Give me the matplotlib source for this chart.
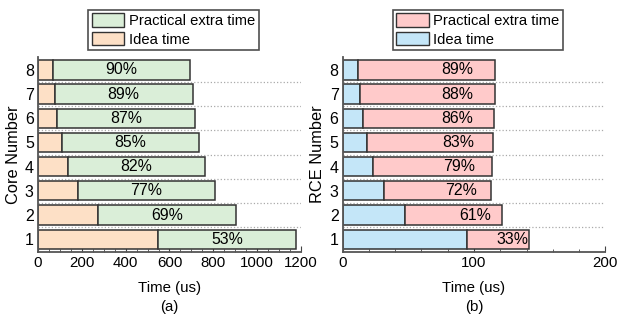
import matplotlib.pyplot as plt
from matplotlib.patches import Patch
from matplotlib.ticker import MultipleLocator, FixedLocator

plt.rcParams['font.family'] = ['Liberation Sans', 'DejaVu Sans']
plt.rcParams['font.size'] = 10.5

# bar index (core / RCE count)
counts = [1, 2, 3, 4, 5, 6, 7, 8]

# (a) multi-core, time in us
core_ideal = [549, 274, 182, 137, 108, 88, 76, 67]
core_total = [1177, 902, 809, 763, 736, 718, 706, 695]
core_pct = ["53%", "69%", "77%", "82%", "85%", "87%", "89%", "90%"]

# (b) RCE, time in us
rce_ideal = [94.9, 47.2, 31.2, 23.3, 18.5, 15.5, 13.2, 12.0]
rce_total = [142.1, 121.6, 113.2, 114.0, 114.7, 115.2, 115.8, 116.2]
rce_pct = ["33%", "61%", "72%", "79%", "83%", "86%", "88%", "89%"]

edge = '#333333'


def draw_panel(ax, ideal, total, pct, c_ideal, c_extra, xmax, major, minor,
               ylabel, tag, label_frac):
    extra = [t - i for t, i in zip(total, ideal)]
    ax.barh(counts, ideal, height=0.8, color=c_ideal, edgecolor=edge, lw=1.1)
    ax.barh(counts, extra, left=ideal, height=0.8, color=c_extra,
            edgecolor=edge, lw=1.1)
    for y, i, e, p in zip(counts, ideal, extra, pct):
        ax.text(i + e * label_frac, y, p, ha='center', va='center', fontsize=11.4)

    ax.set_xlim(0, xmax)
    ax.set_ylim(0.47, 8.53)
    ax.xaxis.set_major_locator(MultipleLocator(major))
    ax.xaxis.set_minor_locator(MultipleLocator(minor))
    ax.set_yticks(counts)
    ax.yaxis.set_minor_locator(FixedLocator([k + 0.5 for k in counts[:-1]]))
    ax.grid(which='minor', axis='y', ls=':', color='#aaaaaa', lw=0.9)
    ax.tick_params(axis='x', which='major', direction='in', length=4,
                   color='#444444', pad=3, labelsize=10.8)
    ax.tick_params(axis='x', which='minor', direction='in', length=2,
                   color='#444444')
    ax.tick_params(axis='y', which='both', length=0, pad=3, labelsize=11.5)
    for s in ('top', 'right'):
        ax.spines[s].set_visible(False)
    for s in ('left', 'bottom'):
        ax.spines[s].set_color('#555555')
        ax.spines[s].set_linewidth(1.3)
    ax.set_axisbelow(True)
    ax.set_ylabel(ylabel, labelpad=3, fontsize=11.8)
    ax.set_xlabel("Time (us)\n" + tag, labelpad=8, linespacing=1.4,
                  fontsize=10.8)

    handles = [Patch(facecolor=c_extra, edgecolor=edge, lw=1),
               Patch(facecolor=c_ideal, edgecolor=edge, lw=1)]
    leg = ax.legend(handles, ["Practical extra time", "Idea time"],
                    loc='lower center', bbox_to_anchor=(0.515, 1.0),
                    frameon=True, fancybox=False, borderpad=0.25,
                    labelspacing=0.28, handlelength=2.2, handleheight=1.0,
                    handletextpad=0.3, borderaxespad=0.45, fontsize=10.6)
    leg.get_frame().set_edgecolor('#222222')
    leg.get_frame().set_linewidth(1.2)


fig = plt.figure(figsize=(6.33, 3.17), dpi=100)
ax1 = fig.add_axes([0.060, 0.205, 0.4155, 0.615])
ax2 = fig.add_axes([0.5414, 0.205, 0.4149, 0.615])

draw_panel(ax1, core_ideal, core_total, core_pct, '#fde0c6', '#daeed8',
           1200, 200, 50, "Core Number", "(a)", 0.5)
draw_panel(ax2, rce_ideal, rce_total, rce_pct, '#c4e6f8', '#ffcaca',
           200, 100, 20, "RCE Number", "(b)", 0.72)

fig.savefig("out.png", dpi=100)
